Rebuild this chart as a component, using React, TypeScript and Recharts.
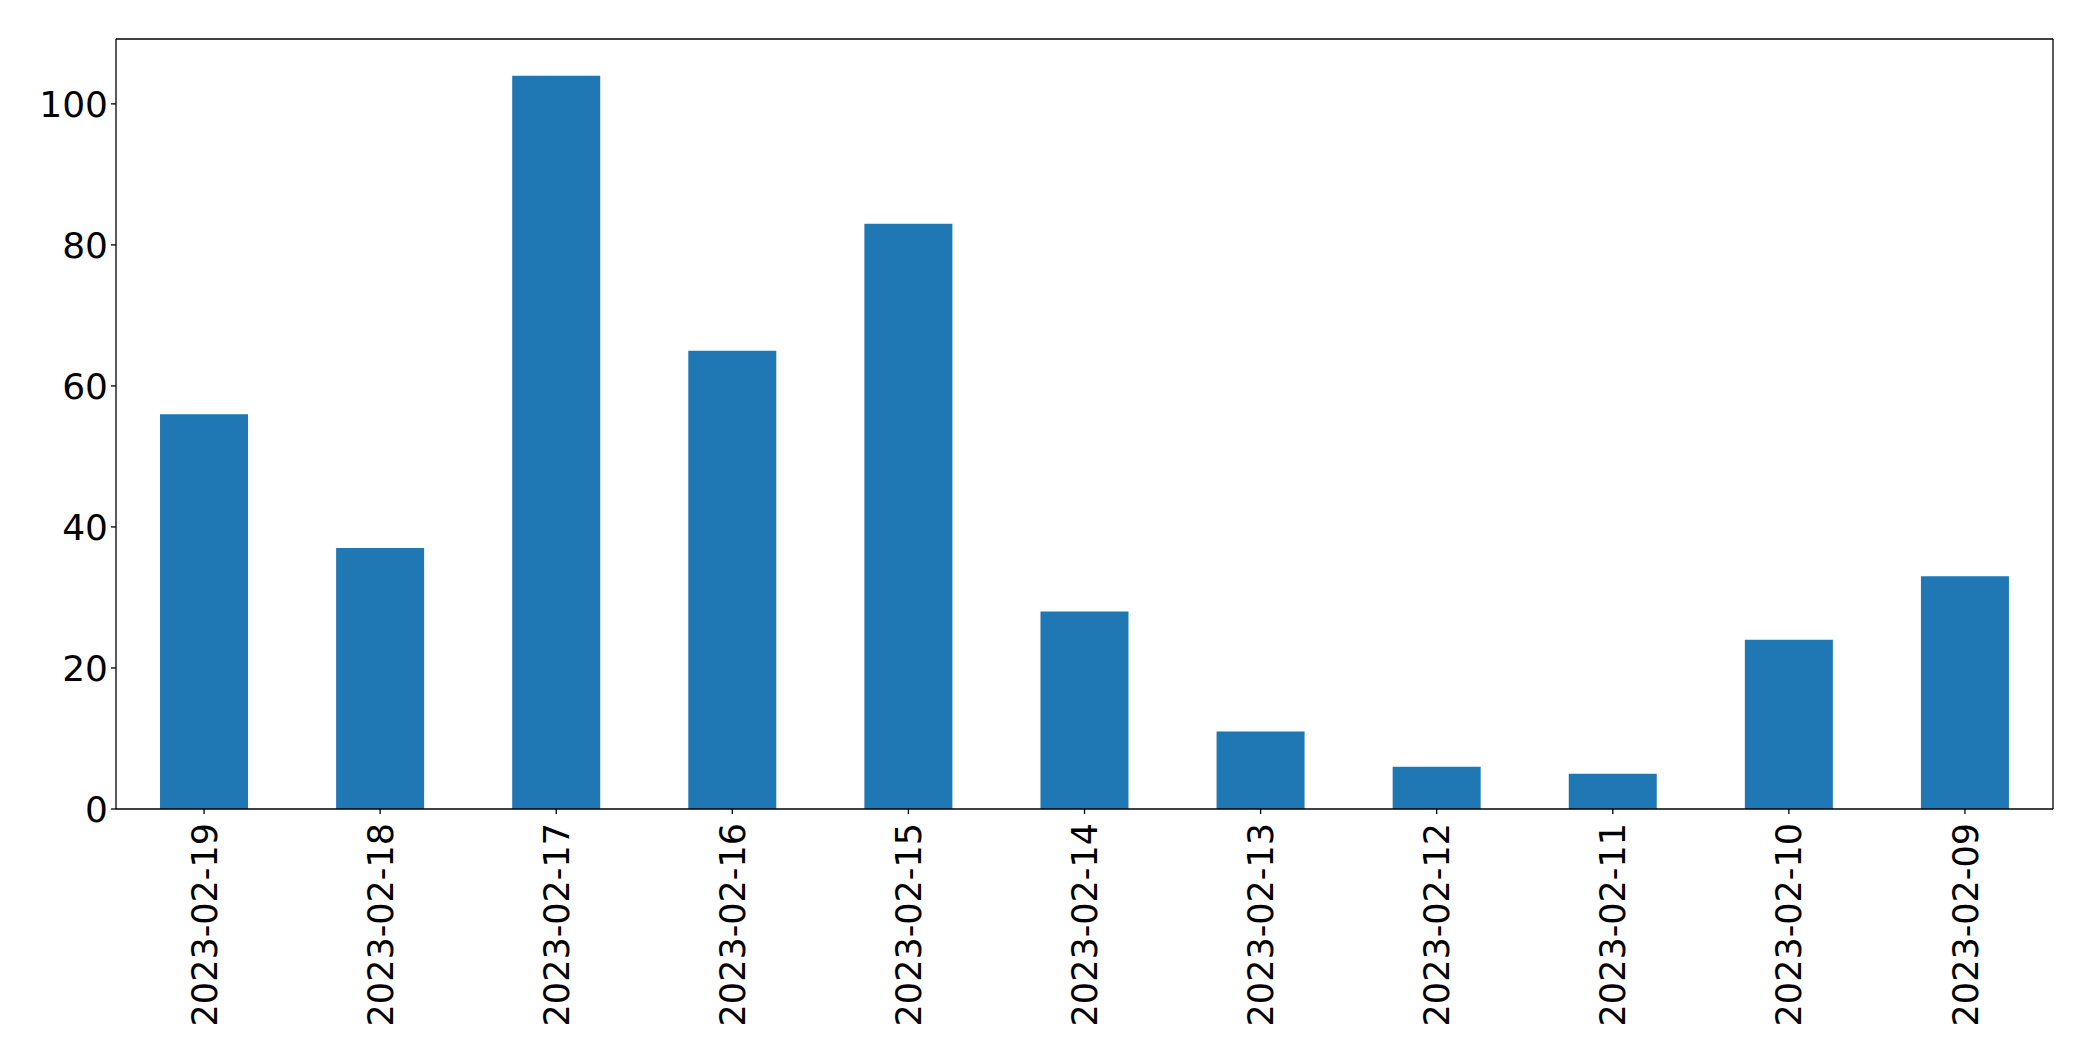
import React from 'react';
import { BarChart, Bar, XAxis, YAxis, ReferenceLine } from 'recharts';

const dates = [
  '2023-02-19', '2023-02-18', '2023-02-17', '2023-02-16', '2023-02-15', '2023-02-14',
  '2023-02-13', '2023-02-12', '2023-02-11', '2023-02-10', '2023-02-09',
];
const counts = [56, 37, 104, 65, 83, 28, 11, 6, 5, 24, 33];
const yTicks = [0, 20, 40, 60, 80, 100];

const data = dates.map((d, i) => ({ date: d, count: counts[i] }));

// matplotlib leaves 5% headroom above the tallest bar
const yMax = Math.max(...counts) * 1.05;

const FONT = 'DejaVu Sans, sans-serif';
const frame = { stroke: '#000', strokeWidth: 1.3 };

const DateTick = (props: any) => {
  const { x, y, payload } = props;
  return (
    <g transform={`translate(${x},${y})`}>
      <text
        transform='rotate(-90)'
        textAnchor='end'
        dy='0.36em'
        fontFamily={FONT}
        fontSize={35}
        fill='#000'
      >
        {payload.value}
      </text>
    </g>
  );
};

const App = () => (
  <div style={{ position: 'absolute', left: 0, top: 0, background: '#fff' }}>
    <BarChart
      width={2093}
      height={1061}
      data={data}
      margin={{ top: 39, right: 40, bottom: 0, left: 16 }}
      barCategoryGap='25%'
    >
      <XAxis
        dataKey='date'
        height={252}
        interval={0}
        tickSize={5}
        tickMargin={9}
        tick={<DateTick />}
        axisLine={frame}
        tickLine={frame}
      />
      <YAxis
        width={100}
        domain={[0, yMax]}
        ticks={yTicks}
        tickSize={5}
        tickMargin={3}
        tick={{ fontFamily: FONT, fontSize: 36, fill: '#000' }}
        axisLine={frame}
        tickLine={frame}
      />
      <Bar dataKey='count' fill='#1f77b4' isAnimationActive={false} />
      <ReferenceLine y={yMax} {...frame} />
      <ReferenceLine x={dates[dates.length - 1]} position='end' {...frame} />
    </BarChart>
  </div>
);

export default App;
